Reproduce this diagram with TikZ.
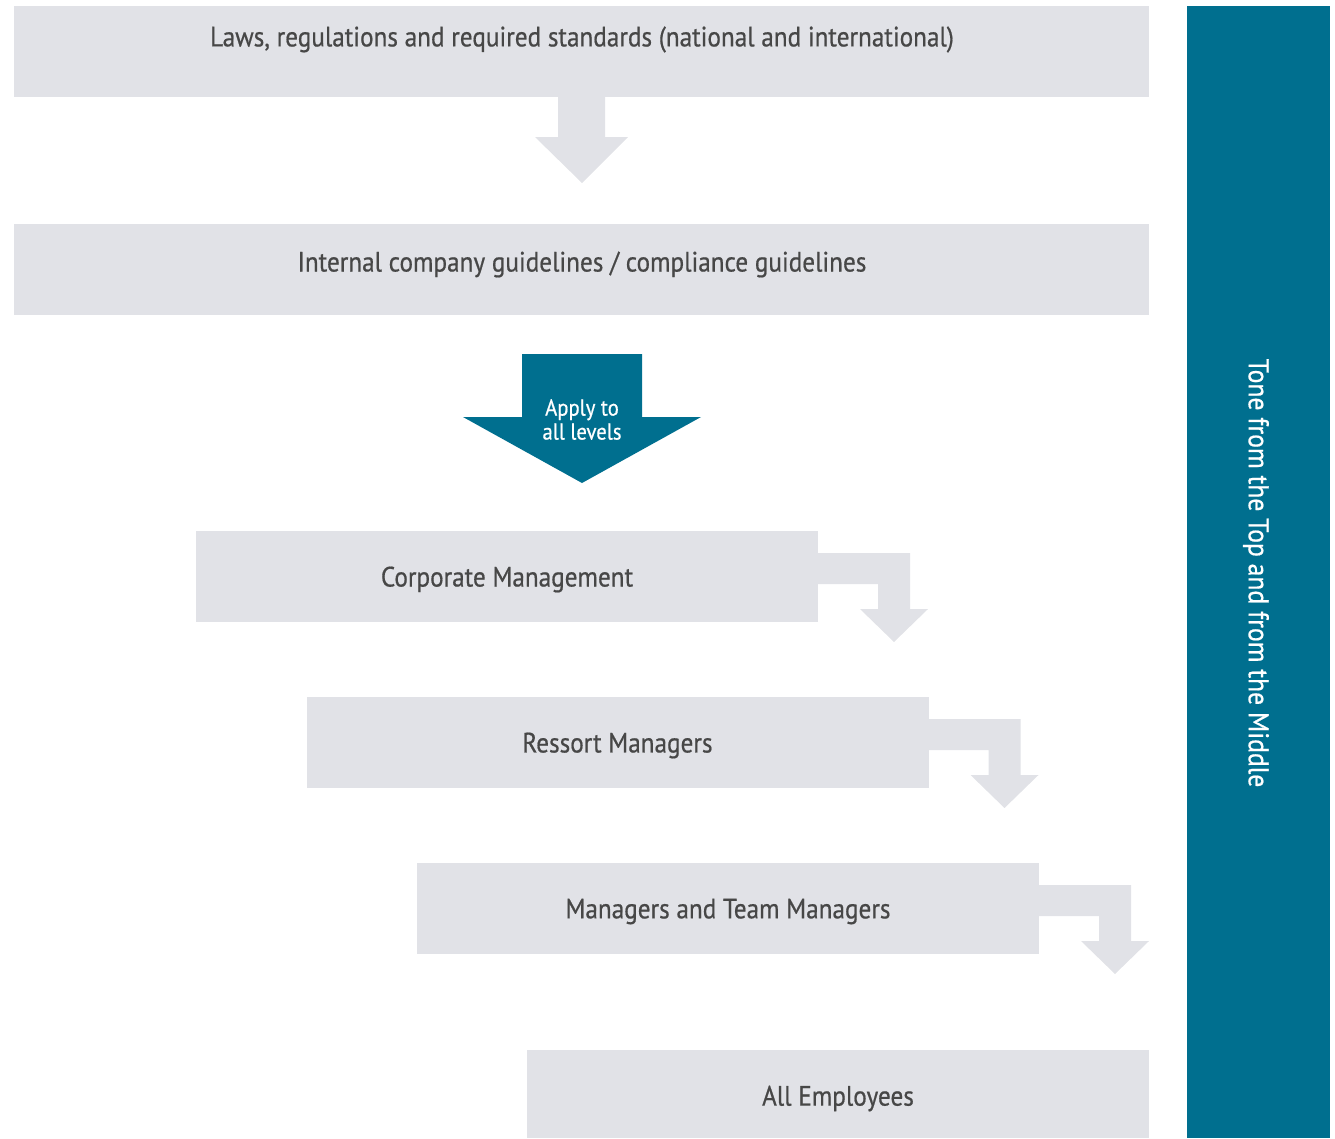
\documentclass[tikz,border=0pt]{standalone}
\usepackage{fontspec}
\setmainfont[FakeStretch=0.9,FakeBold=0.6]{PT Sans}
\definecolor{boxgray}{HTML}{E1E2E7}
\definecolor{teal}{HTML}{006F8F}
\definecolor{txt}{HTML}{474747}
\begin{document}
\begin{tikzpicture}[x=1pt,y=-1pt,
  box/.style={fill=boxgray,draw=none},
  lbl/.style={text=txt,font=\fontsize{28}{32}\selectfont,inner sep=0pt,anchor=center},
  grayarrow/.style={fill=boxgray,draw=none}]
\useasboundingbox (0,0) rectangle (1335,1138);
% boxes
\fill[box] (14,6) rectangle (1149,97);
\node[lbl] (laws) at (582,39.5) {Laws, regulations and required standards (national and international)};
\fill[box] (14,224) rectangle (1149,315);
\node[lbl] (internal) at (582,264.5) {Internal company guidelines / compliance guidelines};
% arrow 1
\fill[grayarrow] (558,97) -- (605,97) -- (605,137) -- (628,137) -- (582,183) -- (535,137) -- (558,137) -- cycle;
% teal arrow
\fill[teal] (522,354) -- (642,354) -- (642,417) -- (701,417) -- (582,483) -- (463,417) -- (522,417) -- cycle;
\node[text=white,font=\fontsize{23}{24}\selectfont,align=center,inner sep=0pt] (apply) at (582,419.5) {Apply to\\all levels};
% level boxes with elbow arrows
\foreach \i/\t in {0/Corporate Management,1/Ressort Managers,2/Managers and Team Managers}{
  \pgfmathsetmacro{\dx}{110.5*\i}
  \pgfmathsetmacro{\dy}{166*\i}
  \begin{scope}[shift={(\dx,\dy)}]
    \fill[box] (196,531) rectangle (818,622);
    \node[lbl] (lvl\i) at (507,579.5) {\t};
    \fill[grayarrow] (818,553) -- (910,553) -- (910,609) -- (928,609) -- (894,642) -- (860,609) -- (878,609) -- (878,584) -- (818,584) -- cycle;
  \end{scope}
}
\fill[box] (527,1050) rectangle (1149,1138);
\node[lbl] (all) at (838,1098.5) {All Employees};
% side bar
\fill[teal] (1187,6) rectangle (1330,1138);
\node[text=white,font=\fontsize{28.5}{32}\selectfont,rotate=-90,inner sep=0pt] (tone) at (1256,573) {Tone from the Top and from the Middle};
\end{tikzpicture}
\end{document}
